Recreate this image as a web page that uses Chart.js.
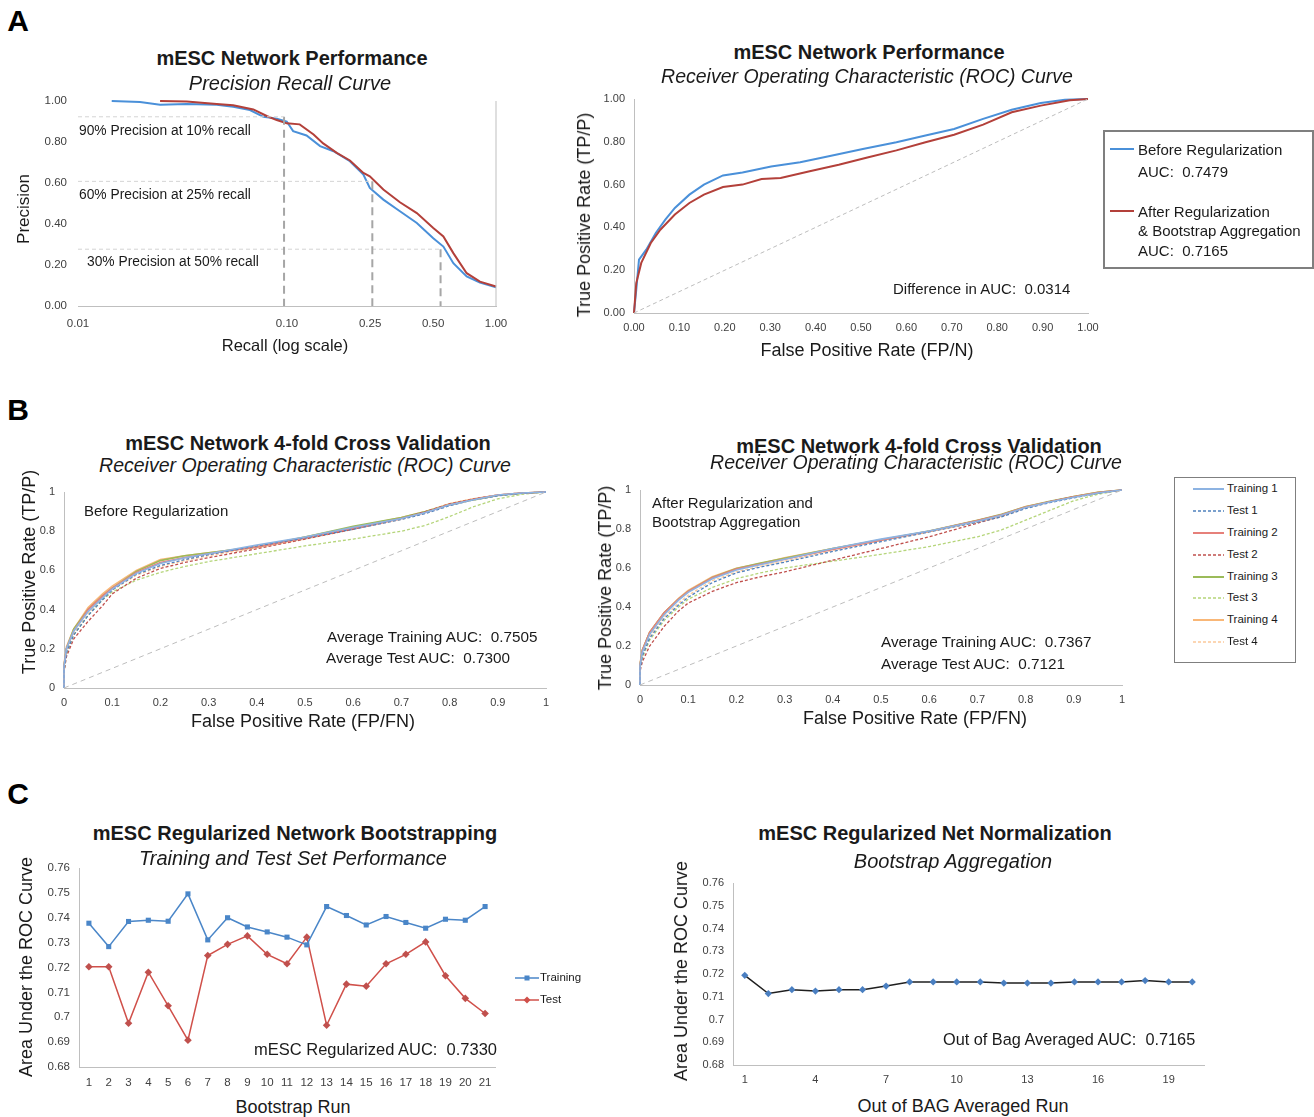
<!DOCTYPE html>
<html><head><meta charset="utf-8">
<script src="https://cdn.jsdelivr.net/npm/chart.js@4.4.1/dist/chart.umd.min.js"></script>
<style>
body{margin:0;background:#fff;}
#page{position:relative;width:1314px;height:1117px;font-family:"Liberation Sans",Arial,Helvetica,sans-serif;color:#1a1a1a;overflow:hidden;background:#fff}
canvas{position:absolute}
.tx{position:absolute;white-space:pre;line-height:1}
.box{position:absolute;box-sizing:border-box}
</style></head>
<body><div id="page"></div>
<script>
// ---------------- DATA ----------------
// Panel A left: precision-recall
const prTicks = [0.01, 0.10, 0.25, 0.50, 1.00];
const prBlueRecall    = [0.0145,0.0198,0.0247,0.0331,0.0461,0.0553,0.0665,0.0771,0.0893,0.0997,0.107,0.124,0.144,0.167,0.200,0.232,0.249,0.289,0.347,0.418,0.501,0.560,0.625,0.724,0.838,1.0];
const prBluePrecision = [1.00,0.995,0.982,0.985,0.982,0.972,0.956,0.923,0.914,0.900,0.853,0.832,0.780,0.755,0.706,0.641,0.576,0.519,0.462,0.405,0.331,0.290,0.209,0.144,0.114,0.091];
const prRedRecall     = [0.0247,0.0331,0.0461,0.0553,0.069,0.080,0.0893,0.0997,0.115,0.134,0.149,0.173,0.200,0.232,0.249,0.289,0.347,0.418,0.501,0.560,0.625,0.724,0.838,1.0];
const prRedPrecision  = [1.00,0.997,0.985,0.979,0.959,0.927,0.907,0.891,0.886,0.837,0.793,0.747,0.710,0.649,0.633,0.568,0.506,0.453,0.380,0.339,0.258,0.160,0.119,0.095];
const guideRecall     = [0.0968, 0.256, 0.543];
const guidePrecision  = [0.923, 0.608, 0.277];
const guideLabels     = ["90% Precision at 10% recall","60% Precision at 25% recall","30% Precision at 50% recall"];

// Panel A right: ROC
const rocBlueFpr = [0,0.005,0.011,0.027,0.048,0.069,0.090,0.122,0.154,0.196,0.239,0.302,0.366,0.429,0.504,0.578,0.642,0.705,0.769,0.832,0.896,0.949,1.0];
const rocBlueTpr = [0,0.109,0.249,0.296,0.374,0.436,0.491,0.553,0.600,0.643,0.657,0.685,0.704,0.732,0.766,0.798,0.829,0.860,0.907,0.950,0.981,0.997,1.0];
const rocRedFpr  = [0,0.005,0.016,0.037,0.058,0.090,0.122,0.154,0.196,0.239,0.281,0.323,0.387,0.451,0.514,0.578,0.642,0.705,0.769,0.832,0.896,0.960,1.0];
const rocRedTpr  = [0,0.140,0.234,0.327,0.389,0.460,0.514,0.553,0.589,0.600,0.626,0.631,0.662,0.693,0.727,0.760,0.798,0.833,0.880,0.938,0.969,0.994,1.0];
const chanceLine = [0, 1];

// Panel B: 4-fold cross validation ROC curves (shared FPR grid)
const cvFpr = [0,0,0.005,0.02,0.05,0.08,0.1,0.15,0.2,0.25,0.3,0.4,0.5,0.6,0.7,0.75,0.8,0.85,0.9,0.95,1];
const cvNames = ["Training 1","Test 1","Training 2","Test 2","Training 3","Test 3","Training 4","Test 4"];
const beforeTraining1 = [0,0.11,0.20,0.29,0.39,0.46,0.505,0.585,0.635,0.665,0.685,0.73,0.77,0.82,0.865,0.895,0.935,0.96,0.985,0.995,1];
const beforeTest1     = [0,0.09,0.18,0.27,0.37,0.45,0.50,0.58,0.625,0.655,0.68,0.725,0.765,0.81,0.86,0.89,0.93,0.96,0.98,0.993,1];
const beforeTraining2 = [0,0.11,0.20,0.29,0.40,0.47,0.51,0.59,0.64,0.665,0.685,0.72,0.765,0.815,0.865,0.895,0.935,0.962,0.985,0.995,1];
const beforeTest2     = [0,0.08,0.16,0.25,0.34,0.42,0.48,0.56,0.61,0.64,0.665,0.71,0.76,0.81,0.865,0.90,0.94,0.965,0.985,0.995,1];
const beforeTraining3 = [0,0.11,0.20,0.30,0.40,0.47,0.51,0.595,0.65,0.675,0.69,0.72,0.77,0.825,0.87,0.90,0.935,0.96,0.982,0.994,1];
const beforeTest3     = [0,0.08,0.17,0.27,0.37,0.45,0.49,0.55,0.59,0.62,0.645,0.685,0.725,0.76,0.80,0.83,0.875,0.925,0.965,0.988,1];
const beforeTraining4 = [0,0.12,0.21,0.30,0.41,0.48,0.52,0.60,0.655,0.675,0.69,0.72,0.77,0.82,0.87,0.90,0.94,0.965,0.985,0.995,1];
const beforeTest4     = [0,0.10,0.19,0.28,0.38,0.455,0.50,0.575,0.62,0.65,0.675,0.715,0.76,0.81,0.86,0.895,0.935,0.962,0.984,0.995,1];
const afterTraining1  = [0,0.10,0.17,0.26,0.36,0.435,0.475,0.545,0.59,0.618,0.645,0.70,0.748,0.79,0.84,0.87,0.91,0.938,0.963,0.985,1];
const afterTest1      = [0,0.08,0.15,0.24,0.34,0.41,0.45,0.525,0.575,0.605,0.63,0.685,0.735,0.785,0.835,0.862,0.905,0.935,0.96,0.983,1];
const afterTraining2  = [0,0.10,0.18,0.27,0.37,0.44,0.48,0.55,0.595,0.62,0.645,0.695,0.742,0.788,0.843,0.873,0.913,0.94,0.965,0.987,1];
const afterTest2      = [0,0.07,0.12,0.20,0.30,0.38,0.42,0.48,0.525,0.555,0.58,0.64,0.70,0.76,0.83,0.865,0.91,0.94,0.965,0.985,1];
const afterTraining3  = [0,0.10,0.18,0.27,0.37,0.44,0.48,0.552,0.597,0.625,0.65,0.70,0.745,0.79,0.845,0.875,0.914,0.942,0.966,0.988,1];
const afterTest3      = [0,0.08,0.14,0.23,0.33,0.40,0.44,0.50,0.545,0.575,0.60,0.635,0.67,0.71,0.76,0.795,0.845,0.895,0.945,0.978,1];
const afterTraining4  = [0,0.11,0.18,0.27,0.37,0.445,0.485,0.555,0.598,0.623,0.652,0.70,0.745,0.788,0.844,0.873,0.915,0.94,0.966,0.988,1];
const afterTest4      = [0,0.09,0.16,0.25,0.35,0.42,0.46,0.535,0.58,0.61,0.635,0.69,0.74,0.785,0.835,0.865,0.908,0.937,0.962,0.985,1];

// Panel C left: bootstrap runs
const bootRuns = ["1","2","3","4","5","6","7","8","9","10","11","12","13","14","15","16","17","18","19","20","21"];
const bootTraining = [0.7378,0.7284,0.7385,0.7390,0.7386,0.7496,0.7311,0.7400,0.7363,0.7343,0.7322,0.7291,0.7445,0.7409,0.7371,0.7405,0.7381,0.7358,0.7394,0.7390,0.7445];
const bootTest     = [0.7203,0.7203,0.6976,0.7181,0.7046,0.6908,0.7248,0.7293,0.7327,0.7253,0.7215,0.7322,0.6968,0.7133,0.7125,0.7215,0.7253,0.7303,0.7167,0.7076,0.7015];

// Panel C right: out-of-bag averaged
const oobRuns = ["1","2","3","4","5","6","7","8","9","10","11","12","13","14","15","16","17","18","19","20"];
const oobAuc  = [0.7194,0.7114,0.7131,0.7125,0.7131,0.7131,0.7147,0.7165,0.7165,0.7165,0.7165,0.7160,0.7160,0.7160,0.7165,0.7165,0.7165,0.7171,0.7165,0.7165];

// ---------------- RENDER ----------------
const page = document.getElementById('page');
const FONT = '"Liberation Sans", Arial, Helvetica, sans-serif';
Chart.defaults.font.family = FONT;
Chart.defaults.color = '#404040';
const AXIS = '#bfbfbf';

function pts(xs, ys){ return xs.map((x,i)=>({x:x, y:ys[i]})); }

function makeChart(L,T,R,B,type,data,xo,yo){
  const pl=75, pt=12, pr=40, pb=30;
  const w=R-L+pl+pr, h=B-T+pt+pb;
  const c=document.createElement('canvas');
  c.width=w; c.height=h;
  Object.assign(c.style,{left:(L-pl)+'px',top:(T-pt)+'px',width:w+'px',height:h+'px'});
  page.appendChild(c);
  xo.afterFit = s=>{ s.height=pb; s.paddingLeft=0; s.paddingRight=0; };
  yo.afterFit = s=>{ s.width=pl; s.paddingTop=0; s.paddingBottom=0; };
  return new Chart(c,{type:type,data:data,options:{
    responsive:false, animation:false, devicePixelRatio:1,
    layout:{padding:{left:0,top:pt,right:pr,bottom:0}},
    plugins:{legend:{display:false},tooltip:{enabled:false}},
    elements:{point:{radius:0}},
    scales:{x:xo,y:yo}
  }});
}

function txt(s,x,y,o){
  o=o||{};
  const d=document.createElement('div');
  d.className='tx'; d.textContent=s;
  d.style.left=x+'px'; d.style.top=y+'px';
  d.style.fontSize=(o.size||15)+'px';
  if(o.bold) d.style.fontWeight='bold';
  if(o.italic) d.style.fontStyle='italic';
  if(o.color) d.style.color=o.color;
  let tr = o.left ? 'translate(0,-50%)' : 'translate(-50%,-50%)';
  if(o.rot) tr += ' rotate(-90deg)';
  d.style.transform=tr;
  page.appendChild(d);
}

function line(ds){ return Object.assign({showLine:true,pointRadius:0,fill:false,borderWidth:1.5,clip:6,tension:0},ds); }
function tickFont(sz){ return {size:sz}; }

// ===== Panel A left: PR curve =====
const prDatasets = [];
guideRecall.forEach((r,i)=>{
  prDatasets.push(line({data:[{x:prTicks[0],y:guidePrecision[i]},{x:r,y:guidePrecision[i]}],borderColor:'#d4d4d4',borderWidth:1,borderDash:[4,3]}));
  prDatasets.push(line({data:[{x:r,y:guidePrecision[i]},{x:r,y:0}],borderColor:'#a6a6a6',borderWidth:2,borderDash:[8,5]}));
});
prDatasets.push(line({data:[{x:prTicks[prTicks.length-1],y:0},{x:prTicks[prTicks.length-1],y:1}],borderColor:AXIS,borderWidth:1}));
prDatasets.push(line({data:pts(prRedRecall,prRedPrecision),borderColor:'#b3403a',borderWidth:2}));
prDatasets.push(line({data:pts(prBlueRecall,prBluePrecision),borderColor:'#4a90d9',borderWidth:2}));
makeChart(78,101,496,306,'scatter',{datasets:prDatasets},
  {type:'logarithmic',min:0.01,max:1,grid:{display:false,drawTicks:false},border:{display:true,color:AXIS},
   afterBuildTicks:s=>{ s.ticks = prTicks.map(v=>({value:v})); },
   ticks:{autoSkip:false,maxRotation:0,padding:11,font:tickFont(11.5),callback:v=>Number(v).toFixed(2)}},
  {type:'linear',min:0,max:1,grid:{display:false,drawTicks:false},border:{display:false},
   ticks:{stepSize:0.2,padding:11,font:tickFont(11.5),callback:v=>Number(v).toFixed(2)}});

// ===== Panel A right: ROC =====
makeChart(634,99,1088,313,'scatter',{datasets:[
  line({data:pts(chanceLine,chanceLine),borderColor:'#bdbdbd',borderWidth:1,borderDash:[4,3]}),
  line({data:pts(rocRedFpr,rocRedTpr),borderColor:'#b3403a',borderWidth:2}),
  line({data:pts(rocBlueFpr,rocBlueTpr),borderColor:'#4a90d9',borderWidth:2})
]},
  {type:'linear',min:0,max:1,grid:{display:false,drawTicks:false},border:{display:true,color:AXIS},
   ticks:{stepSize:0.1,autoSkip:false,maxRotation:0,padding:8,font:tickFont(11),callback:v=>Number(v).toFixed(2)}},
  {type:'linear',min:0,max:1,grid:{display:false,drawTicks:false},border:{display:true,color:AXIS},
   ticks:{stepSize:0.2,padding:9,font:tickFont(11),callback:v=>Number(v).toFixed(2)}});

// ===== Panel B =====
const cvColors = ['#8db3e2','#4f81bd','#e6807a','#c0504d','#9bbb59','#b5d57a','#f9b777','#fbc99a'];
function cvDatasets(series){
  const ds=[line({data:pts(chanceLine,chanceLine),borderColor:'#bdbdbd',borderWidth:1,borderDash:[5,4]})];
  series.forEach((s,i)=>{
    const test = i%2===1;
    ds.push(line({data:pts(cvFpr,s),borderColor:cvColors[i],borderWidth:test?1.3:1.6,borderDash:test?[3,2]:[]}));
  });
  return ds;
}
const cvX = ()=>({type:'linear',min:0,max:1,grid:{display:false,drawTicks:false},border:{display:true,color:AXIS},
   ticks:{stepSize:0.1,autoSkip:false,maxRotation:0,padding:8,font:tickFont(11),callback:v=>String(parseFloat(Number(v).toFixed(1)))}});
const cvY = ()=>({type:'linear',min:0,max:1,grid:{display:false,drawTicks:false},border:{display:true,color:AXIS},
   ticks:{stepSize:0.2,padding:9,font:tickFont(11),callback:v=>String(parseFloat(Number(v).toFixed(1)))}});
makeChart(64,492,546,688,'scatter',{datasets:cvDatasets([beforeTraining1,beforeTest1,beforeTraining2,beforeTest2,beforeTraining3,beforeTest3,beforeTraining4,beforeTest4])},cvX(),cvY());
makeChart(640,490,1122,685,'scatter',{datasets:cvDatasets([afterTraining1,afterTest1,afterTraining2,afterTest2,afterTraining3,afterTest3,afterTraining4,afterTest4])},cvX(),cvY());

// ===== Panel C left =====
const cY = (pad,sz)=>({type:'linear',min:0.68,max:0.76,grid:{display:false,drawTicks:false},border:{display:true,color:AXIS},
   ticks:{stepSize:0.01,padding:pad,font:tickFont(sz),callback:v=>String(parseFloat(Number(v).toFixed(2)))}});
makeChart(79,868,495,1067,'line',{labels:bootRuns,datasets:[
  {data:bootTraining,borderColor:'#4a86c8',backgroundColor:'#4a86c8',borderWidth:1.5,pointStyle:'rect',pointRadius:3.6,pointBorderWidth:0,tension:0},
  {data:bootTest,borderColor:'#d0504a',backgroundColor:'#c0504d',borderWidth:1.5,pointStyle:'rectRot',pointRadius:3.8,pointBorderWidth:0,tension:0}
]},
  {type:'category',offset:true,grid:{display:false,drawTicks:false,offset:true},border:{display:true,color:AXIS},
   ticks:{autoSkip:false,maxRotation:0,padding:9,font:tickFont(11.5)}},
  cY(9,11.5));

// ===== Panel C right =====
makeChart(733,883,1204,1065,'line',{labels:oobRuns,datasets:[
  {data:oobAuc,borderColor:'#1f1f1f',backgroundColor:'#4a7fc1',borderWidth:1.5,pointStyle:'rectRot',pointRadius:3.6,pointBorderWidth:0,tension:0}
]},
  {type:'category',offset:true,grid:{display:false,drawTicks:false,offset:true},border:{display:true,color:AXIS},
   ticks:{autoSkip:false,maxRotation:0,padding:8,font:tickFont(11),callback:(v,i)=> i%3===0 ? oobRuns[i] : ''}},
  cY(9,11));

// ---------------- TEXT ----------------
// Panel letters
txt('A',18,21,{size:30,bold:true,color:'#000'});
txt('B',18,410,{size:30,bold:true,color:'#000'});
txt('C',18,794,{size:30,bold:true,color:'#000'});

// A left
txt('mESC Network Performance',292,58,{size:20,bold:true});
txt('Precision Recall Curve',290,83,{size:20,italic:true});
txt('Recall (log scale)',285,345,{size:16.5});
txt('Precision',23,209,{size:17,rot:true});
txt(guideLabels[0],79,131,{size:13.8,left:true});
txt(guideLabels[1],79,195,{size:13.8,left:true});
txt(guideLabels[2],87,262,{size:13.8,left:true});

// A right
txt('mESC Network Performance',869,52,{size:20,bold:true});
txt('Receiver Operating Characteristic (ROC) Curve',867,77,{size:19.5,italic:true});
txt('False Positive Rate (FP/N)',867,350,{size:18});
txt('True Positive Rate (TP/P)',584,215,{size:18,rot:true});
txt('Difference in AUC:  0.0314',893,288,{size:15,left:true});

// A right legend
(function(){
  const b=document.createElement('div'); b.className='box';
  Object.assign(b.style,{left:'1103px',top:'130px',width:'211px',height:'139px',border:'2px solid #7f7f7f'});
  page.appendChild(b);
  function sw(y,col){ const s=document.createElement('div'); s.className='box';
    Object.assign(s.style,{left:'1110px',top:(y-1)+'px',width:'24px',height:'2px',background:col}); page.appendChild(s); }
  sw(149,'#4a90d9'); sw(211,'#b3403a');
  txt('Before Regularization',1138,149,{size:15,left:true});
  txt('AUC:  0.7479',1138,171,{size:15,left:true});
  txt('After Regularization',1138,211,{size:15,left:true});
  txt('& Bootstrap Aggregation',1138,230,{size:15,left:true});
  txt('AUC:  0.7165',1138,250,{size:15,left:true});
})();

// B left
txt('mESC Network 4-fold Cross Validation',308,443,{size:20,bold:true});
txt('Receiver Operating Characteristic (ROC) Curve',305,466,{size:19.5,italic:true});
txt('False Positive Rate (FP/FN)',303,721,{size:18});
txt('True Positive Rate (TP/P)',29,572,{size:18,rot:true});
txt('Before Regularization',84,510,{size:15,left:true});
txt('Average Training AUC:  0.7505',327,637,{size:15.3,left:true});
txt('Average Test AUC:  0.7300',326,658,{size:15.3,left:true});

// B right
txt('mESC Network 4-fold Cross Validation',919,446,{size:20,bold:true});
txt('Receiver Operating Characteristic (ROC) Curve',916,463,{size:19.5,italic:true});
txt('False Positive Rate (FP/FN)',915,718,{size:18});
txt('True Positive Rate (TP/P)',605,588,{size:18,rot:true});
txt('After Regularization and',652,502,{size:15,left:true});
txt('Bootstrap Aggregation',652,521,{size:15,left:true});
txt('Average Training AUC:  0.7367',881,642,{size:15.3,left:true});
txt('Average Test AUC:  0.7121',881,664,{size:15.3,left:true});

// B legend
(function(){
  const b=document.createElement('div'); b.className='box';
  Object.assign(b.style,{left:'1174px',top:'477px',width:'122px',height:'186px',border:'1.5px solid #7f7f7f'});
  page.appendChild(b);
  const ys=[489,511,533,555,577,598,620,642];
  cvNames.forEach((n,i)=>{
    const test=i%2===1;
    const NS='http://www.w3.org/2000/svg';
    const s=document.createElementNS(NS,'svg');
    s.setAttribute('width','31'); s.setAttribute('height','4');
    Object.assign(s.style,{position:'absolute',left:'1193px',top:(ys[i]-2)+'px'});
    const l=document.createElementNS(NS,'line');
    l.setAttribute('x1','0');l.setAttribute('y1','2');l.setAttribute('x2','31');l.setAttribute('y2','2');
    l.setAttribute('stroke',cvColors[i]); l.setAttribute('stroke-width',test?'1.5':'2');
    if(test) l.setAttribute('stroke-dasharray','3 2');
    s.appendChild(l); page.appendChild(s);
    txt(n,1227,ys[i],{size:11.5,left:true});
  });
})();

// C left
txt('mESC Regularized Network Bootstrapping',295,833,{size:20,bold:true});
txt('Training and Test Set Performance',293,858,{size:20,italic:true});
txt('Bootstrap Run',293,1107,{size:18});
txt('Area Under the ROC Curve',26,967,{size:18,rot:true});
txt('mESC Regularized AUC:  0.7330',254,1049,{size:16.5,left:true});
(function(){
  const NS='http://www.w3.org/2000/svg';
  function item(y,col,diamond,label){
    const s=document.createElementNS(NS,'svg');
    s.setAttribute('width','26'); s.setAttribute('height','10');
    Object.assign(s.style,{position:'absolute',left:'514px',top:(y-5)+'px'});
    s.innerHTML='<line x1="1" y1="5" x2="25" y2="5" stroke="'+col+'" stroke-width="1.5"/>'+
      (diamond?'<polygon points="13,1.5 16.5,5 13,8.5 9.5,5" fill="'+col+'"/>':'<rect x="10.5" y="2.5" width="5" height="5" fill="'+col+'"/>');
    page.appendChild(s);
    txt(label,540,y,{size:11.5,left:true});
  }
  item(978,'#4a86c8',false,'Training');
  item(1000,'#d0504a',true,'Test');
})();

// C right
txt('mESC Regularized Net Normalization',935,833,{size:20,bold:true});
txt('Bootstrap Aggregation',953,861,{size:20,italic:true});
txt('Out of BAG Averaged Run',963,1106,{size:18});
txt('Area Under the ROC Curve',681,971,{size:18,rot:true});
txt('Out of Bag Averaged AUC:  0.7165',943,1039,{size:16.3,left:true});
</script>
</body></html>
